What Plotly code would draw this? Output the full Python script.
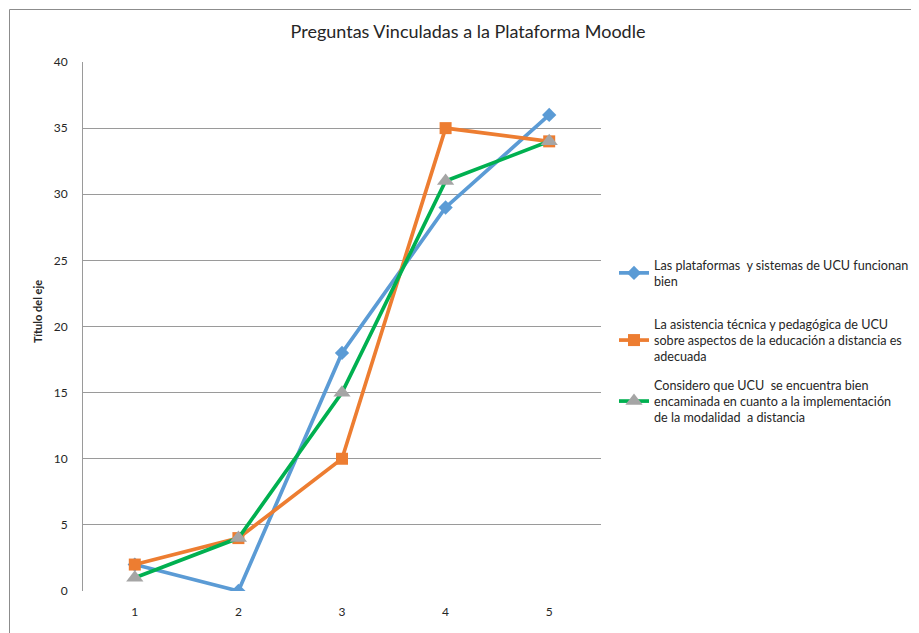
import plotly.graph_objects as go

categories = ["1", "2", "3", "4", "5"]
serie_plataformas = [2, 0, 18, 29, 36]
serie_asistencia = [2, 4, 10, 35, 34]
serie_encaminada = [1, 4, 15, 31, 34]
names = [
    "Las plataformas  y sistemas de UCU funcionan<br>bien",
    "La asistencia técnica y pedagógica de UCU<br>sobre aspectos de la educación a distancia es<br>adecuada",
    "Considero que UCU  se encuentra bien<br>encaminada en cuanto a la implementación<br>de la modalidad  a distancia",
]
y_ticks = [0, 5, 10, 15, 20, 25, 30, 35, 40]

FONT = "Lato"
OFF = 8  # page body margin offset
W, H = 960, 633 - OFF
L, R, T, B = 83 - OFF, 601 - OFF, 62 - OFF, 591 - OFF

fig = go.Figure()
fig.add_trace(go.Scatter(
    x=categories, y=serie_plataformas, name=names[0], mode="lines+markers",
    line=dict(color="#5B9BD5", width=3.7),
    marker=dict(symbol="diamond", size=11, color="#5B9BD5"),
    legend="legend"))
fig.add_trace(go.Scatter(
    x=categories, y=serie_asistencia, name=names[1], mode="lines+markers",
    line=dict(color="#ED7D31", width=3.7),
    marker=dict(symbol="square", size=12, color="#ED7D31"),
    legend="legend2"))
fig.add_trace(go.Scatter(
    x=categories, y=serie_encaminada, name=names[2], mode="lines+markers",
    line=dict(color="#00B050", width=3.7),
    marker=dict(symbol="triangle-up", size=15, color="#A5A5A5"),
    legend="legend3"))

def px_x(p):
    return (p - OFF - L) / (R - L)

def px_y(p):
    return (B - (p - OFF)) / (B - T)

def leg(top):
    return dict(x=px_x(614), xanchor="left", y=px_y(top), yanchor="top",
                font=dict(family=FONT, size=12.6, color="#262626"),
                itemwidth=30, bgcolor="rgba(0,0,0,0)")

fig.update_layout(
    width=W, height=H,
    margin=dict(l=L, r=W - R, t=T, b=H - B, pad=0),
    paper_bgcolor="white", plot_bgcolor="white",
    font=dict(family=FONT, size=12, color="#262626"),
    title=dict(text="Preguntas Vinculadas a la Plataforma Moodle",
               x=(468 - OFF) / W, xanchor="center", y=1 - (32 - OFF) / H, yanchor="middle",
               font=dict(family=FONT, size=18, color="#262626")),
    xaxis=dict(type="category", categoryarray=categories, range=[-0.5, 4.5],
               showgrid=False, zeroline=False, showline=False,
               ticks="", tickfont=dict(size=12, color="#262626"),
               ticklabelstandoff=12, fixedrange=True),
    yaxis=dict(range=[0, 40], tickvals=y_ticks, showgrid=True,
               gridcolor="#9A9A9A", gridwidth=1, zeroline=False,
               showline=True, linecolor="#9A9A9A", linewidth=1,
               ticks="", tickfont=dict(size=12, color="#262626"),
               ticklabelstandoff=12),
    legend=leg(250),
    legend2=leg(309),
    legend3=leg(370),
    showlegend=True,
)

fig.add_annotation(text="<b>Título del eje</b>", textangle=-90,
                   xref="paper", yref="paper", x=px_x(37), y=px_y(312),
                   xanchor="center", yanchor="middle", showarrow=False,
                   font=dict(family=FONT, size=11, color="#262626"))

# chart area border
fig.add_shape(type="rect", xref="paper", yref="paper",
              x0=px_x(9.5), x1=px_x(960), y0=px_y(650), y1=px_y(9.5),
              line=dict(color="#8C8C8C", width=1), layer="below")

fig.write_html("out.html")
